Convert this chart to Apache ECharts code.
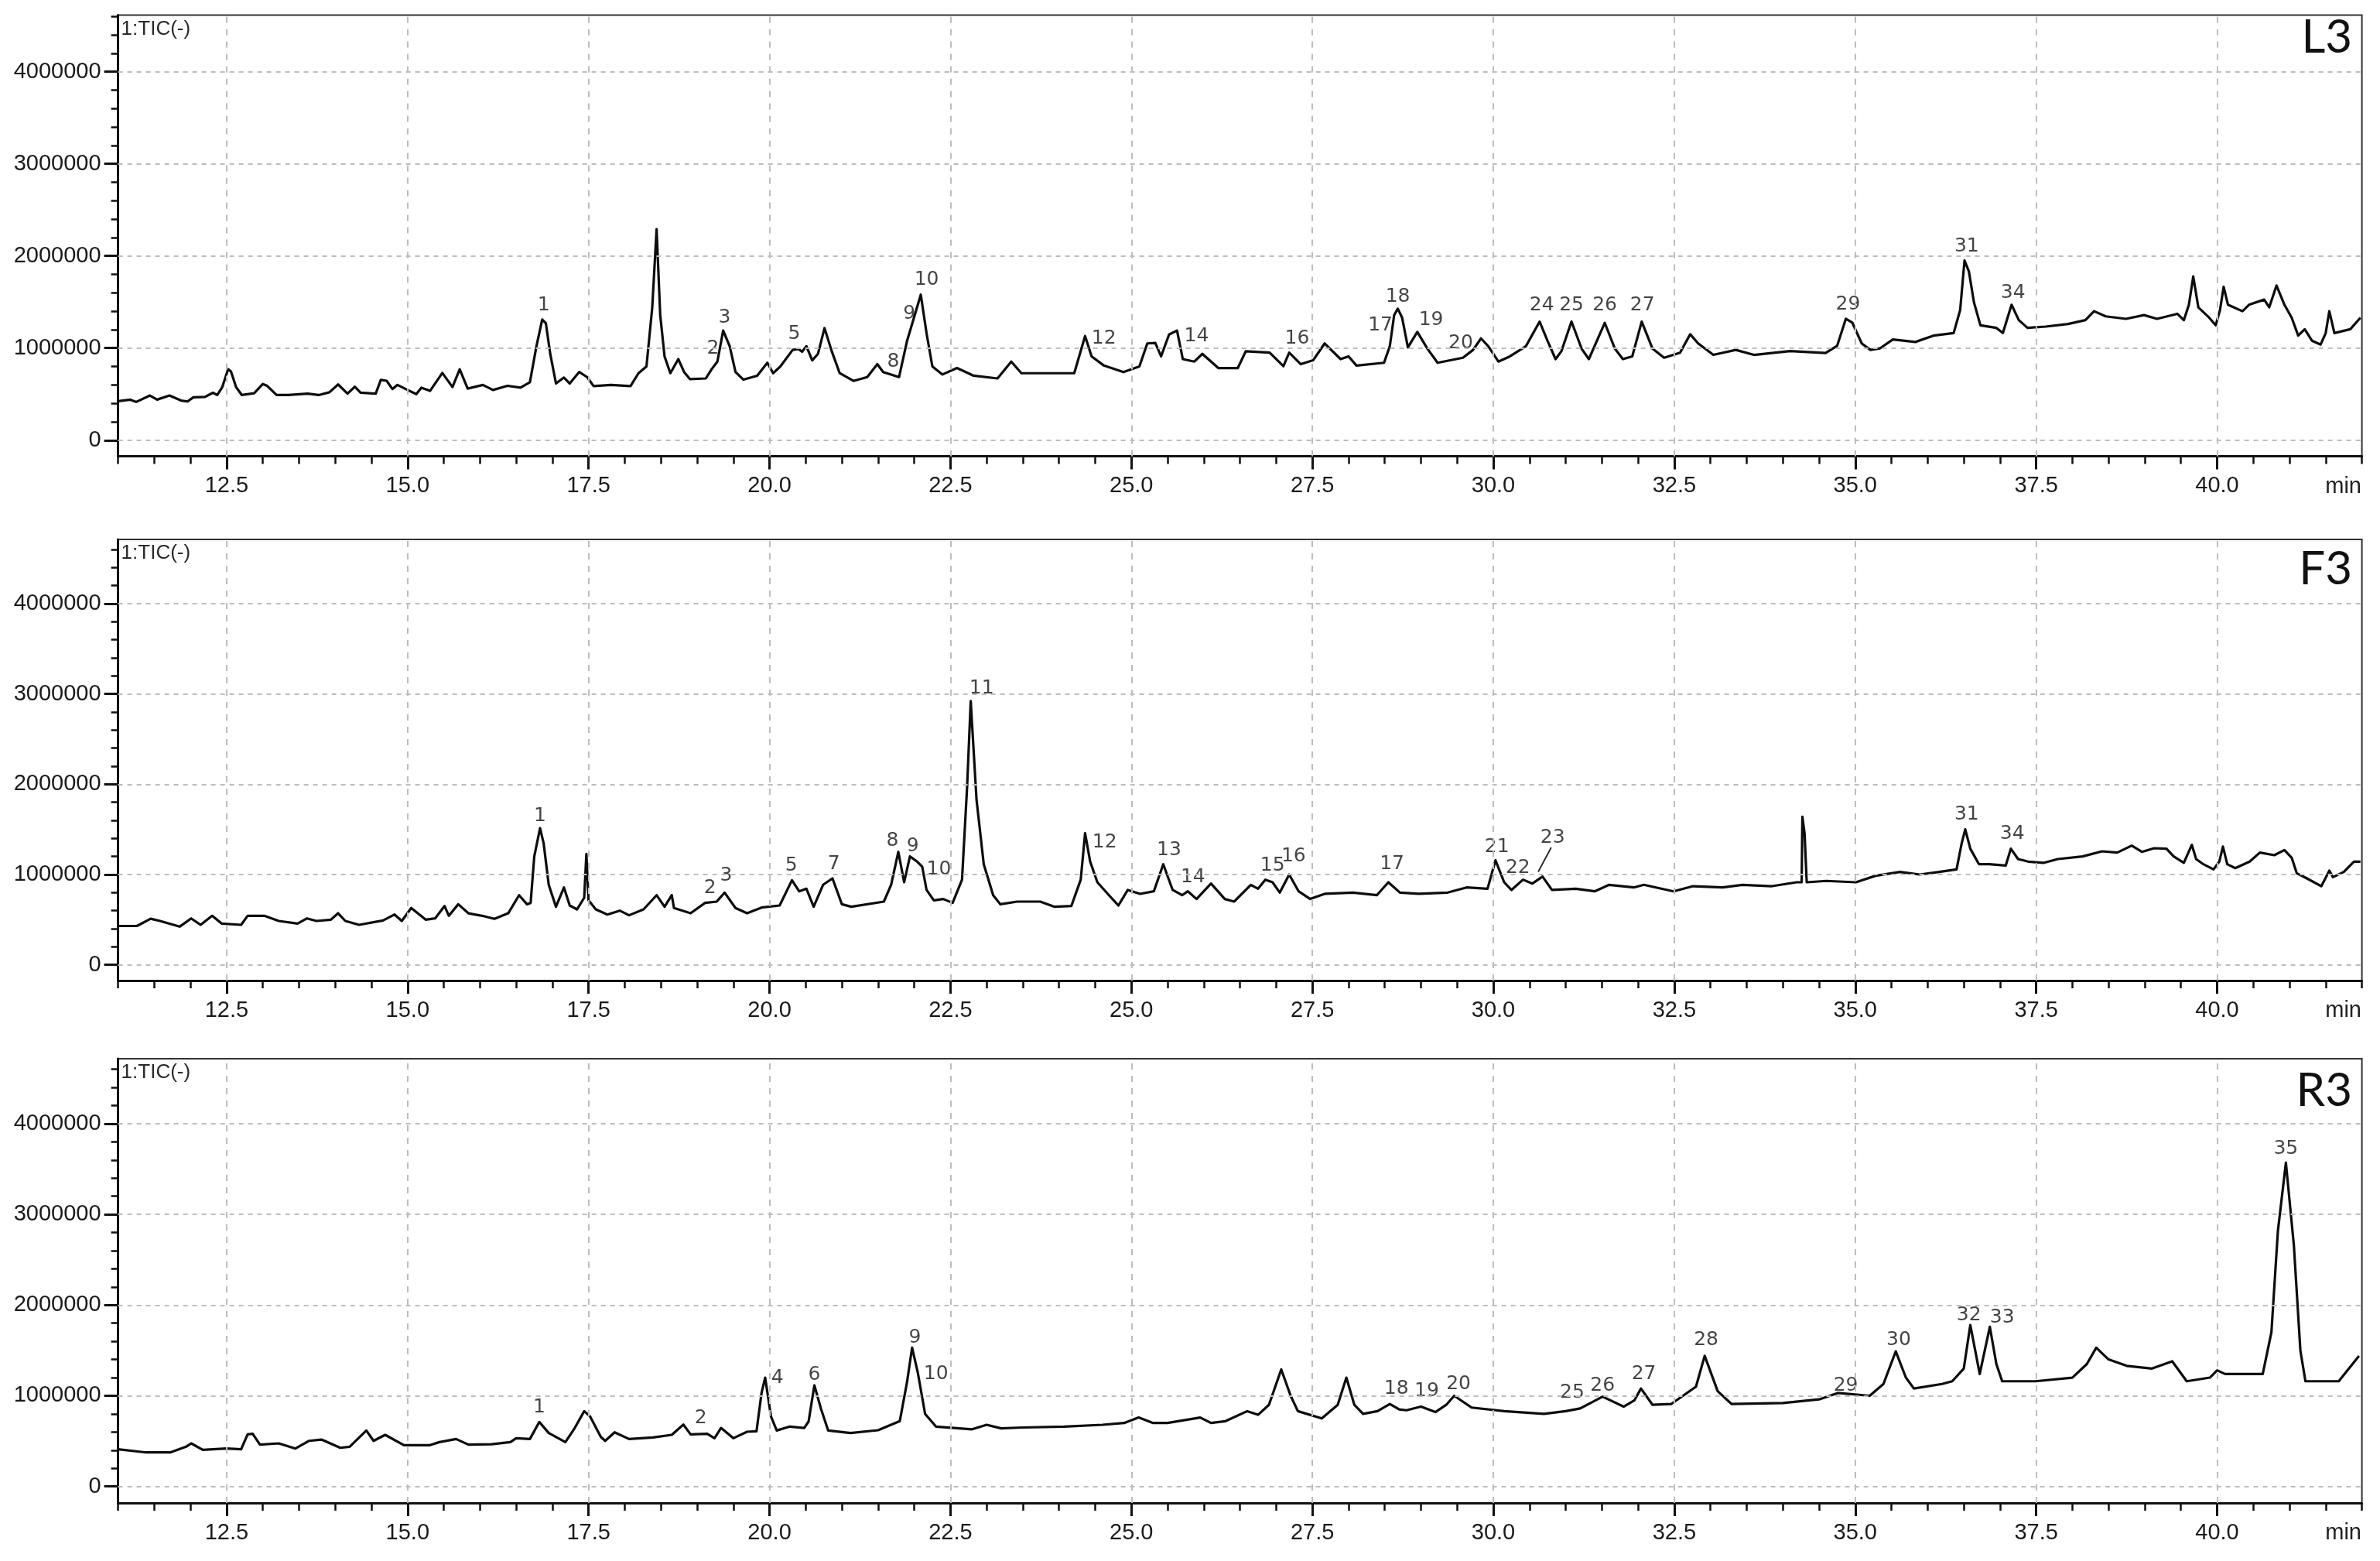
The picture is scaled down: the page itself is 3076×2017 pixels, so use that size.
<!DOCTYPE html>
<html><head><meta charset="utf-8">
<script src="https://cdn.jsdelivr.net/npm/echarts/dist/echarts.min.js"></script>
<style>html,body{margin:0;padding:0;background:#fff}#c{width:3076px;height:2017px}</style>
</head><body><div id="c"></div>
<script>
// ---- tick labels ----
const xTickLabels = [12.5, 15.0, 17.5, 20.0, 22.5, 25.0, 27.5, 30.0, 32.5, 35.0, 37.5, 40.0];
const yTickLabels = [0, 1000000, 2000000, 3000000, 4000000];
const panelNames = ['L3', 'F3', 'R3'];

// ---- traces [time (min), intensity] ----
const traceL3 = [[11.0,423000],[11.17,440000],[11.25,415000],[11.44,485000],[11.54,440000],[11.71,485000],[11.87,430000],[11.96,420000],[12.04,465000],[12.2,470000],[12.31,515000],[12.37,490000],[12.44,577000],[12.52,770000],[12.56,745000],[12.63,577000],[12.71,490000],[12.88,510000],[13.0,610000],[13.06,590000],[13.19,490000],[13.35,490000],[13.62,505000],[13.77,490000],[13.92,520000],[14.04,605000],[14.17,505000],[14.27,580000],[14.35,515000],[14.56,505000],[14.63,655000],[14.71,645000],[14.79,555000],[14.86,600000],[15.0,545000],[15.12,500000],[15.19,570000],[15.31,535000],[15.48,730000],[15.62,577000],[15.72,770000],[15.83,560000],[16.04,600000],[16.18,545000],[16.38,590000],[16.56,570000],[16.69,630000],[16.78,1020000],[16.86,1310000],[16.91,1270000],[16.97,940000],[17.05,615000],[17.16,680000],[17.24,615000],[17.37,740000],[17.48,685000],[17.57,587000],[17.81,600000],[18.08,587000],[18.19,727000],[18.3,800000],[18.38,1440000],[18.44,2290000],[18.49,1360000],[18.55,910000],[18.63,727000],[18.74,880000],[18.82,740000],[18.9,663000],[19.12,670000],[19.2,770000],[19.28,853000],[19.36,1190000],[19.45,1020000],[19.53,740000],[19.64,657000],[19.83,700000],[19.97,840000],[20.05,727000],[20.15,800000],[20.32,980000],[20.4,990000],[20.45,960000],[20.51,1020000],[20.59,867000],[20.67,937000],[20.76,1217000],[20.86,965000],[20.97,727000],[21.16,643000],[21.35,685000],[21.49,825000],[21.57,740000],[21.79,685000],[21.9,1077000],[21.98,1287000],[22.09,1580000],[22.17,1160000],[22.25,800000],[22.39,713000],[22.59,783000],[22.82,700000],[23.15,670000],[23.34,853000],[23.48,727000],[23.75,727000],[24.21,727000],[24.36,1130000],[24.45,910000],[24.62,810000],[24.89,740000],[25.11,800000],[25.22,1050000],[25.33,1055000],[25.41,910000],[25.52,1147000],[25.63,1190000],[25.71,880000],[25.87,853000],[25.98,937000],[26.2,783000],[26.47,783000],[26.58,965000],[26.91,950000],[27.1,803000],[27.18,950000],[27.34,825000],[27.51,867000],[27.67,1050000],[27.89,880000],[28.0,910000],[28.11,810000],[28.49,840000],[28.57,1020000],[28.63,1357000],[28.68,1427000],[28.74,1330000],[28.82,1007000],[28.95,1175000],[29.09,993000],[29.23,840000],[29.58,895000],[29.72,980000],[29.83,1105000],[29.93,1020000],[30.07,853000],[30.23,910000],[30.45,1020000],[30.64,1287000],[30.75,1077000],[30.86,880000],[30.94,965000],[31.08,1287000],[31.22,993000],[31.32,880000],[31.54,1273000],[31.68,993000],[31.79,880000],[31.92,910000],[32.05,1287000],[32.2,993000],[32.36,895000],[32.58,950000],[32.72,1150000],[32.83,1050000],[33.04,926000],[33.35,980000],[33.6,926000],[34.1,968000],[34.59,946000],[34.75,1024000],[34.87,1317000],[34.96,1275000],[35.09,1050000],[35.21,980000],[35.34,996000],[35.52,1093000],[35.83,1066000],[36.08,1135000],[36.36,1163000],[36.45,1414000],[36.51,1950000],[36.57,1833000],[36.64,1498000],[36.73,1247000],[36.95,1219000],[37.04,1163000],[37.16,1470000],[37.26,1303000],[37.38,1219000],[37.63,1233000],[37.94,1261000],[38.18,1303000],[38.3,1400000],[38.46,1344000],[38.74,1317000],[38.99,1358000],[39.17,1317000],[39.45,1372000],[39.54,1303000],[39.61,1470000],[39.67,1777000],[39.74,1442000],[39.89,1330000],[39.98,1247000],[40.04,1414000],[40.09,1665000],[40.15,1470000],[40.35,1400000],[40.44,1470000],[40.65,1526000],[40.72,1442000],[40.82,1679000],[40.93,1470000],[41.03,1330000],[41.12,1135000],[41.21,1205000],[41.31,1080000],[41.43,1038000],[41.5,1163000],[41.55,1400000],[41.62,1163000],[41.84,1205000],[41.98,1330000]];

const traceF3 = [[11.0,430000],[11.26,430000],[11.45,510000],[11.58,486000],[11.85,423000],[12.01,514000],[12.14,443000],[12.3,543000],[12.43,457000],[12.7,443000],[12.79,543000],[13.02,543000],[13.22,486000],[13.48,457000],[13.61,514000],[13.74,486000],[13.94,500000],[14.04,571000],[14.14,486000],[14.33,443000],[14.66,491000],[14.82,557000],[14.92,486000],[15.05,629000],[15.25,500000],[15.38,514000],[15.51,651000],[15.57,543000],[15.7,671000],[15.84,571000],[16.03,543000],[16.2,509000],[16.39,571000],[16.54,771000],[16.65,671000],[16.7,686000],[16.75,1200000],[16.83,1514000],[16.88,1343000],[16.95,886000],[17.05,643000],[17.16,857000],[17.24,657000],[17.34,614000],[17.44,743000],[17.47,1229000],[17.5,714000],[17.6,614000],[17.76,557000],[17.93,600000],[18.06,549000],[18.26,614000],[18.44,771000],[18.55,643000],[18.65,771000],[18.68,629000],[18.91,571000],[19.11,686000],[19.27,700000],[19.38,800000],[19.53,629000],[19.69,571000],[19.89,634000],[20.14,657000],[20.31,937000],[20.41,814000],[20.51,843000],[20.61,643000],[20.74,886000],[20.87,957000],[21.0,671000],[21.13,643000],[21.58,700000],[21.68,886000],[21.78,1251000],[21.86,914000],[21.94,1200000],[22.04,1143000],[22.11,1086000],[22.17,829000],[22.27,714000],[22.4,729000],[22.53,686000],[22.66,943000],[22.73,1971000],[22.78,2920000],[22.86,1829000],[22.96,1114000],[23.09,771000],[23.19,671000],[23.42,700000],[23.74,700000],[23.94,643000],[24.17,651000],[24.3,943000],[24.36,1457000],[24.43,1143000],[24.53,914000],[24.69,771000],[24.82,657000],[24.95,829000],[25.12,786000],[25.31,814000],[25.44,1114000],[25.57,829000],[25.7,771000],[25.78,814000],[25.9,729000],[26.1,900000],[26.29,729000],[26.42,700000],[26.65,886000],[26.75,843000],[26.85,943000],[26.95,914000],[27.05,800000],[27.18,1000000],[27.31,814000],[27.47,729000],[27.67,786000],[28.06,800000],[28.39,771000],[28.55,914000],[28.71,800000],[28.97,786000],[29.37,800000],[29.63,857000],[29.92,843000],[30.03,1157000],[30.15,914000],[30.25,829000],[30.41,943000],[30.54,900000],[30.68,977000],[30.81,829000],[31.14,843000],[31.4,814000],[31.6,886000],[31.94,857000],[32.08,886000],[32.49,814000],[32.76,871000],[33.17,857000],[33.44,886000],[33.85,871000],[34.19,914000],[34.26,914000],[34.27,1640000],[34.3,1457000],[34.33,914000],[34.6,929000],[35.01,914000],[35.28,986000],[35.62,1029000],[35.89,1000000],[36.16,1029000],[36.4,1057000],[36.47,1343000],[36.52,1500000],[36.59,1286000],[36.71,1114000],[36.85,1114000],[37.08,1100000],[37.15,1286000],[37.25,1171000],[37.39,1143000],[37.6,1129000],[37.8,1171000],[38.14,1200000],[38.41,1257000],[38.62,1243000],[38.82,1320000],[38.96,1251000],[39.13,1291000],[39.3,1286000],[39.4,1200000],[39.54,1129000],[39.65,1329000],[39.71,1171000],[39.81,1114000],[39.95,1057000],[40.03,1143000],[40.08,1309000],[40.14,1114000],[40.25,1071000],[40.45,1143000],[40.59,1243000],[40.79,1214000],[40.93,1271000],[41.03,1186000],[41.1,1014000],[41.24,957000],[41.44,871000],[41.55,1043000],[41.6,971000],[41.75,1029000],[41.89,1143000],[41.98,1143000]];

const traceR3 = [[11.0,410000],[11.39,375000],[11.72,375000],[11.94,438000],[12.01,475000],[12.17,404000],[12.5,418000],[12.7,410000],[12.79,574000],[12.86,580000],[12.96,461000],[13.22,475000],[13.45,418000],[13.64,503000],[13.81,517000],[14.07,426000],[14.2,438000],[14.43,617000],[14.53,503000],[14.69,569000],[14.95,455000],[15.31,455000],[15.44,489000],[15.67,523000],[15.84,461000],[16.16,466000],[16.42,489000],[16.5,532000],[16.69,523000],[16.82,711000],[16.95,589000],[17.18,489000],[17.31,645000],[17.44,830000],[17.52,773000],[17.67,546000],[17.73,503000],[17.86,597000],[18.06,523000],[18.39,540000],[18.65,569000],[18.81,682000],[18.91,574000],[19.14,580000],[19.24,532000],[19.33,645000],[19.5,532000],[19.69,603000],[19.82,608000],[19.89,1030000],[19.94,1200000],[20.02,773000],[20.1,617000],[20.28,660000],[20.48,645000],[20.54,716000],[20.62,1115000],[20.71,859000],[20.81,617000],[21.12,589000],[21.5,620000],[21.8,720000],[21.9,1150000],[21.97,1530000],[22.05,1250000],[22.15,800000],[22.3,660000],[22.8,630000],[23.0,680000],[23.2,640000],[23.5,650000],[24.07,660000],[24.6,680000],[24.9,700000],[25.1,760000],[25.3,700000],[25.5,700000],[25.95,760000],[26.1,700000],[26.3,720000],[26.6,830000],[26.75,790000],[26.9,900000],[27.07,1290000],[27.2,1000000],[27.3,830000],[27.63,750000],[27.85,900000],[27.97,1200000],[28.08,900000],[28.2,800000],[28.4,830000],[28.57,910000],[28.7,850000],[28.8,840000],[29.0,880000],[29.2,820000],[29.35,900000],[29.46,1000000],[29.7,870000],[30.15,830000],[30.7,800000],[31.0,830000],[31.2,860000],[31.51,990000],[31.8,880000],[31.95,950000],[32.04,1080000],[32.2,900000],[32.46,910000],[32.8,1100000],[32.92,1440000],[33.1,1050000],[33.29,910000],[34.0,920000],[34.5,960000],[34.76,1030000],[35.2,1000000],[35.39,1130000],[35.56,1490000],[35.7,1200000],[35.81,1080000],[36.2,1130000],[36.34,1160000],[36.5,1300000],[36.59,1780000],[36.72,1240000],[36.86,1760000],[36.95,1350000],[37.03,1160000],[37.49,1160000],[38.0,1200000],[38.2,1350000],[38.33,1530000],[38.5,1400000],[38.75,1330000],[39.1,1300000],[39.38,1380000],[39.58,1160000],[39.9,1200000],[40.0,1280000],[40.11,1240000],[40.63,1240000],[40.75,1700000],[40.84,2820000],[40.95,3570000],[41.06,2660000],[41.15,1500000],[41.22,1160000],[41.68,1160000],[41.96,1440000]];

// ---- peak labels [time, intensity at label centre, text] ----
const peaksL3 = [[16.88,1460000,'1'],[19.22,990000,'2'],[19.38,1330000,'3'],[20.34,1150000,'5'],[21.71,853000,'8'],[21.93,1370000,'9'],[22.17,1740000,'10'],[24.62,1105000,'12'],[25.9,1130000,'14'],[27.29,1105000,'16'],[28.44,1245000,'17'],[28.68,1560000,'18'],[29.14,1306000,'19'],[29.55,1050000,'20'],[30.67,1460000,'24'],[31.08,1460000,'25'],[31.54,1460000,'26'],[32.06,1460000,'27'],[34.9,1470000,'29'],[36.54,2100000,'31'],[37.18,1600000,'34']];
const peaksF3 = [[16.83,1651000,'1'],[19.18,849000,'2'],[19.4,986000,'3'],[20.3,1100000,'5'],[20.89,1114000,'7'],[21.7,1371000,'8'],[21.98,1314000,'9'],[22.34,1057000,'10'],[22.93,3063000,'11'],[24.63,1357000,'12'],[25.52,1271000,'13'],[25.85,971000,'14'],[26.95,1100000,'15'],[27.24,1200000,'16'],[28.6,1114000,'17'],[30.05,1306000,'21'],[30.34,1071000,'22'],[30.82,1409000,'23'],[36.54,1663000,'31'],[37.17,1449000,'34']];
const peaksR3 = [[16.82,873000,'1'],[19.05,751000,'2'],[20.11,1200000,'4'],[20.62,1234000,'6'],[22.01,1640000,'9'],[22.3,1240000,'10'],[28.66,1080000,'18'],[29.08,1050000,'19'],[29.52,1130000,'20'],[31.09,1030000,'25'],[31.51,1110000,'26'],[32.08,1240000,'27'],[32.94,1610000,'28'],[34.87,1110000,'29'],[35.6,1610000,'30'],[36.57,1890000,'32'],[37.03,1860000,'33'],[40.95,3720000,'35']];
const leaderF3 = [[30.8,1300000],[30.62,1030000]];

// ---- layout ----
const layout = [
  {top: 19.4, height: 570.2, min: -175000, max: 4615000, nameY: 49},
  {top: 697, height: 570, min: -174000, max: 4710000, nameY: 736},
  {top: 1368, height: 574, min: -182000, max: 4716000, nameY: 1410}
];
const traces = [traceL3, traceF3, traceR3];
const peaks = [peaksL3, peaksF3, peaksR3];

const GL = 152.6, GR = 23.4;
const axisFont = {fontFamily: 'Liberation Sans, Arial, sans-serif', fontSize: 29, color: '#1a1a1a'};
const minorY = [];
for (let v = 0; v <= 4600000; v += 200000) minorY.push(v);

const grid = [], xAxis = [], yAxis = [], series = [], graphic = [];
layout.forEach((L, i) => {
  grid.push({left: GL, right: GR, top: L.top, height: L.height, show: true,
    borderColor: '#333', borderWidth: 2, backgroundColor: 'transparent'});
  xAxis.push({type: 'value', gridIndex: i, min: 11, max: 42, interval: 0.5, position: 'bottom',
    axisLine: {show: true, onZero: false, lineStyle: {color: '#111', width: 3}},
    axisTick: {show: true, length: 10, lineStyle: {color: '#111', width: 2.5}},
    axisLabel: {show: false}, splitLine: {show: false}});
  xAxis.push({type: 'value', gridIndex: i, min: 11, max: 42, position: 'bottom',
    axisLine: {show: false, onZero: false},
    axisTick: {show: true, length: 17, customValues: xTickLabels, lineStyle: {color: '#111', width: 3}},
    axisLabel: Object.assign({show: true, customValues: xTickLabels, margin: 24,
      formatter: v => v.toFixed(1)}, axisFont),
    splitLine: {show: false}});
  yAxis.push({type: 'value', gridIndex: i, min: L.min, max: L.max, position: 'left',
    axisLine: {show: true, onZero: false, lineStyle: {color: '#111', width: 3}},
    axisTick: {show: true, length: 9, customValues: minorY, lineStyle: {color: '#111', width: 2.5}},
    axisLabel: {show: false}, splitLine: {show: false}});
  yAxis.push({type: 'value', gridIndex: i, min: L.min, max: L.max, position: 'left',
    axisLine: {show: false, onZero: false},
    axisTick: {show: true, length: 18, customValues: yTickLabels, lineStyle: {color: '#111', width: 3}},
    axisLabel: Object.assign({show: true, customValues: yTickLabels, margin: 22,
      formatter: v => String(v)}, axisFont),
    splitLine: {show: false}});

  // dashed grid lines
  series.push({type: 'line', xAxisIndex: 2 * i, yAxisIndex: 2 * i, data: [], z: 1, silent: true,
    markLine: {silent: true, symbol: ['none', 'none'], label: {show: false}, animation: false,
      data: yTickLabels.map(v => ({yAxis: v, lineStyle: {color: '#bdbdbd', width: 2, type: [6, 6]}}))
        .concat(xTickLabels.map(v => ({xAxis: v, lineStyle: {color: '#bdbdbd', width: 2, type: [8, 8]}})))}});
  // trace
  series.push({type: 'line', xAxisIndex: 2 * i, yAxisIndex: 2 * i, data: traces[i], z: 3,
    symbol: 'none', showSymbol: false, silent: true,
    lineStyle: {color: '#0d0d0d', width: 3.2, join: 'round'}});
  // peak labels
  series.push({type: 'scatter', xAxisIndex: 2 * i, yAxisIndex: 2 * i, z: 4, silent: true,
    symbolSize: 0,
    data: peaks[i].map(p => ({value: [p[0], p[1]], name: p[2]})),
    label: {show: true, position: 'inside', formatter: '{b}', color: '#151515',
      fontFamily: 'DejaVu Sans, sans-serif', fontSize: 25}});

  graphic.push({type: 'text', left: GL + 4, top: L.top + 5, z: 10,
    style: {text: '1:TIC(-)', fill: '#2a2a2a', font: '26px "Liberation Sans", Arial, sans-serif'}});
  graphic.push({type: 'text', z: 10, x: 3040, y: L.nameY,
    style: {text: panelNames[i], fill: '#111', align: 'right', verticalAlign: 'middle',
      font: '60px Lato, "Open Sans", sans-serif'}});
  graphic.push({type: 'text', z: 10, x: 3052, y: L.top + L.height + 39,
    style: {text: 'min', fill: '#222', align: 'right', verticalAlign: 'middle',
      font: '29px "Liberation Sans", Arial, sans-serif'}});
});
// leader line for peak 23 (F3)
series.push({type: 'line', xAxisIndex: 2, yAxisIndex: 2, data: leaderF3, z: 4, symbol: 'none', silent: true,
  lineStyle: {color: '#222', width: 1.8}});

const chart = echarts.init(document.getElementById('c'), null, {renderer: 'canvas'});
chart.setOption({animation: false, backgroundColor: '#fff', grid, xAxis, yAxis, series, graphic});
</script>
</body></html>
